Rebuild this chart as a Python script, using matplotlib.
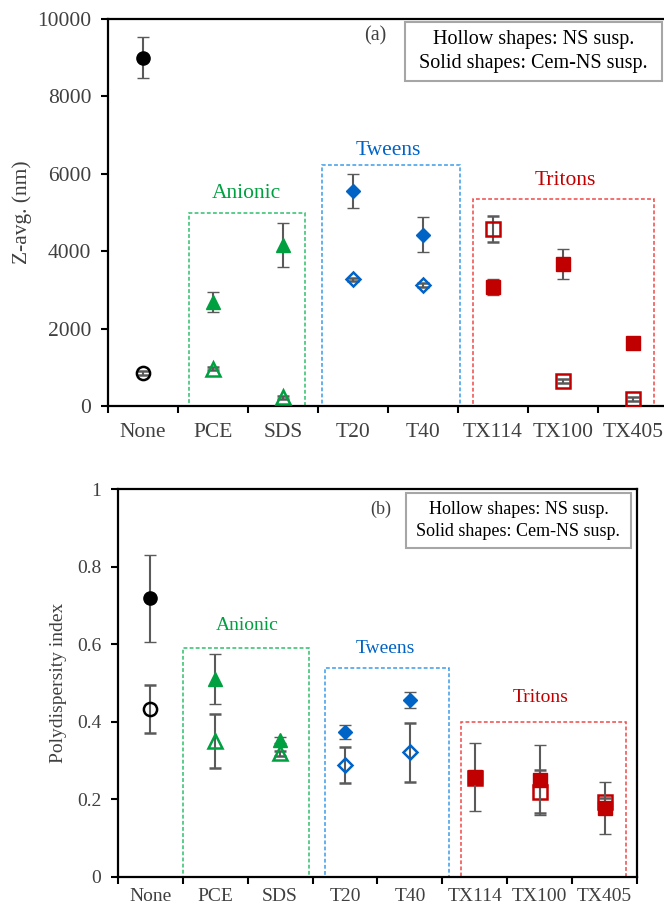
import matplotlib
matplotlib.use("Agg")
import matplotlib.pyplot as plt
from matplotlib.patches import Rectangle
from matplotlib.ticker import FuncFormatter, FixedLocator
import numpy as np

plt.rcParams['font.family'] = ['Liberation Serif', 'DejaVu Serif']

categories = ["None", "PCE", "SDS", "T20", "T40", "TX114", "TX100", "TX405"]
groups = [0, 1, 1, 2, 2, 3, 3, 3]  # None, Anionic, Tweens, Tritons

# Panel (a): Z-average (nm)
z_solid = [9000, 2680, 4150, 5550, 4430, 3080, 3680, 1620]
z_solid_err = [530, 260, 570, 440, 460, 200, 390, 50]
z_hollow = [850, 970, 230, 3270, 3120, 4570, 650, 180]
z_hollow_err = [60, 40, 40, 50, 50, 340, 60, 50]

# Panel (b): Polydispersity index
p_solid = [0.718, 0.511, 0.353, 0.373, 0.456, 0.258, 0.250, 0.179]
p_solid_err = [0.113, 0.064, 0.008, 0.018, 0.020, 0.087, 0.090, 0.067]
p_hollow = [0.433, 0.350, 0.319, 0.289, 0.321, 0.256, 0.220, 0.194]
p_hollow_err = [0.062, 0.070, 0.006, 0.047, 0.077, 0.010, 0.055, 0.010]

group_colors = ["#000000", "#00A040", "#0063C6", "#C00000"]
group_markers = ["o", "^", "D", "s"]
group_msize = [9.5, 9.5, 7.5, 9.5]
box_colors = ["#2DBE6C", "#3A9BE8", "#F04848"]
group_names = ["Anionic", "Tweens", "Tritons"]

# boxes: (x0, x1, ytop) per panel
boxes_a = [(0.66, 2.31, 5000), (2.56, 4.53, 6230), (4.71, 7.30, 5350)]
labels_a = [(1.48, 5500), (3.51, 6600), (6.03, 5820)]
boxes_b = [(0.50, 2.45, 0.589), (2.69, 4.61, 0.538), (4.79, 7.33, 0.400)]
labels_b = [(1.49, 0.648), (3.62, 0.590), (6.01, 0.463)]

err_color = "#5A5A5A"

fig = plt.figure(figsize=(6.64, 9.10), dpi=100)
ax1 = fig.add_axes([0.1627, 0.5538, 0.8434, 0.4253])
ax2 = fig.add_axes([0.1777, 0.0363, 0.7816, 0.4263])


def draw_panel(ax, solid, solid_err, hollow, hollow_err, boxes, labels, fs, xpad,
               tag, tagpos, legbox, ylim, yticks, ylabel, ylabel_x):
    x = np.arange(len(categories))
    for i in range(len(categories)):
        g = groups[i]
        c = group_colors[g]
        m = group_markers[g]
        ms = group_msize[g]
        ax.errorbar(x[i], hollow[i], yerr=hollow_err[i], fmt=m, ms=ms,
                    mfc='none', mec=c, mew=1.8, ecolor=err_color, elinewidth=1.5,
                    capsize=4, capthick=1.5, zorder=3)
        ax.errorbar(x[i], solid[i], yerr=solid_err[i], fmt=m, ms=ms,
                    mfc=c, mec=c, mew=1.0, ecolor=err_color, elinewidth=1.5,
                    capsize=4, capthick=1.5, zorder=4)
    for (x0, x1, yt), col, (lx, ly), name in zip(boxes, box_colors, labels, group_names):
        ax.add_patch(Rectangle((x0, 0), x1 - x0, yt, fill=False, edgecolor=col,
                               lw=1.1, linestyle=(0, (2.5, 1.5)), zorder=2))
        ax.text(lx, ly, name, color=group_colors[group_names.index(name) + 1],
                fontsize=fs, ha='center', va='center')
    ax.set_xlim(-0.5, 7.5)
    ax.set_ylim(*ylim)
    ax.set_yticks(yticks)
    ax.yaxis.set_major_formatter(FuncFormatter(lambda v, p: f"{v:g}"))
    ax.set_xticks(x)
    ax.set_xticklabels(categories)
    ax.xaxis.set_minor_locator(FixedLocator(np.arange(-0.5, 8.0, 1.0)))
    ax.tick_params(axis='x', which='major', length=0, pad=xpad, labelsize=fs, colors='#404040')
    ax.tick_params(axis='x', which='minor', length=5, width=1.5, direction='out', color='black')
    ax.tick_params(axis='y', which='major', length=5, width=1.5, direction='out',
                   pad=7, labelsize=fs, colors='#404040')
    ax.tick_params(axis='both', which='both', color='black')
    for s in ax.spines.values():
        s.set_linewidth(1.6)
        s.set_color('black')
    ax.set_ylabel(ylabel, fontsize=fs, color='#404040')
    ax.yaxis.set_label_coords(ylabel_x, 0.5)
    ax.text(tagpos[0], tagpos[1], tag, transform=ax.transAxes, fontsize=fs - 1,
            ha='center', va='center', color='#404040')
    lx0, ly0, lx1, ly1 = legbox
    ax.add_patch(Rectangle((lx0, ly0), lx1 - lx0, ly1 - ly0, transform=ax.transAxes,
                           fill=True, facecolor='white', edgecolor='#A6A6A6', lw=1.5,
                           zorder=5, clip_on=False))
    cx = (lx0 + lx1) / 2
    h = ly1 - ly0
    ax.text(cx, ly1 - h * 0.30, "Hollow shapes: NS susp.", transform=ax.transAxes,
            fontsize=fs - 1, ha='center', va='center', zorder=6)
    ax.text(cx, ly1 - h * 0.70, "Solid shapes: Cem-NS susp.", transform=ax.transAxes,
            fontsize=fs - 1, ha='center', va='center', zorder=6)


draw_panel(ax1, z_solid, z_solid_err, z_hollow, z_hollow_err, boxes_a, labels_a, 15.5, 12,
           "(a)", (0.478, 0.956), (0.53, 0.84, 0.989, 0.993), (0, 10000),
           [0, 2000, 4000, 6000, 8000, 10000], "Z-avg. (nm)", -0.136)
draw_panel(ax2, p_solid, p_solid_err, p_hollow, p_hollow_err, boxes_b, labels_b, 14, 8,
           "(b)", (0.507, 0.948), (0.554, 0.849, 0.989, 0.991), (0, 1),
           [0, 0.2, 0.4, 0.6, 0.8, 1.0], "Polydispersity index", -0.099)

fig.savefig("out.png", dpi=100)
